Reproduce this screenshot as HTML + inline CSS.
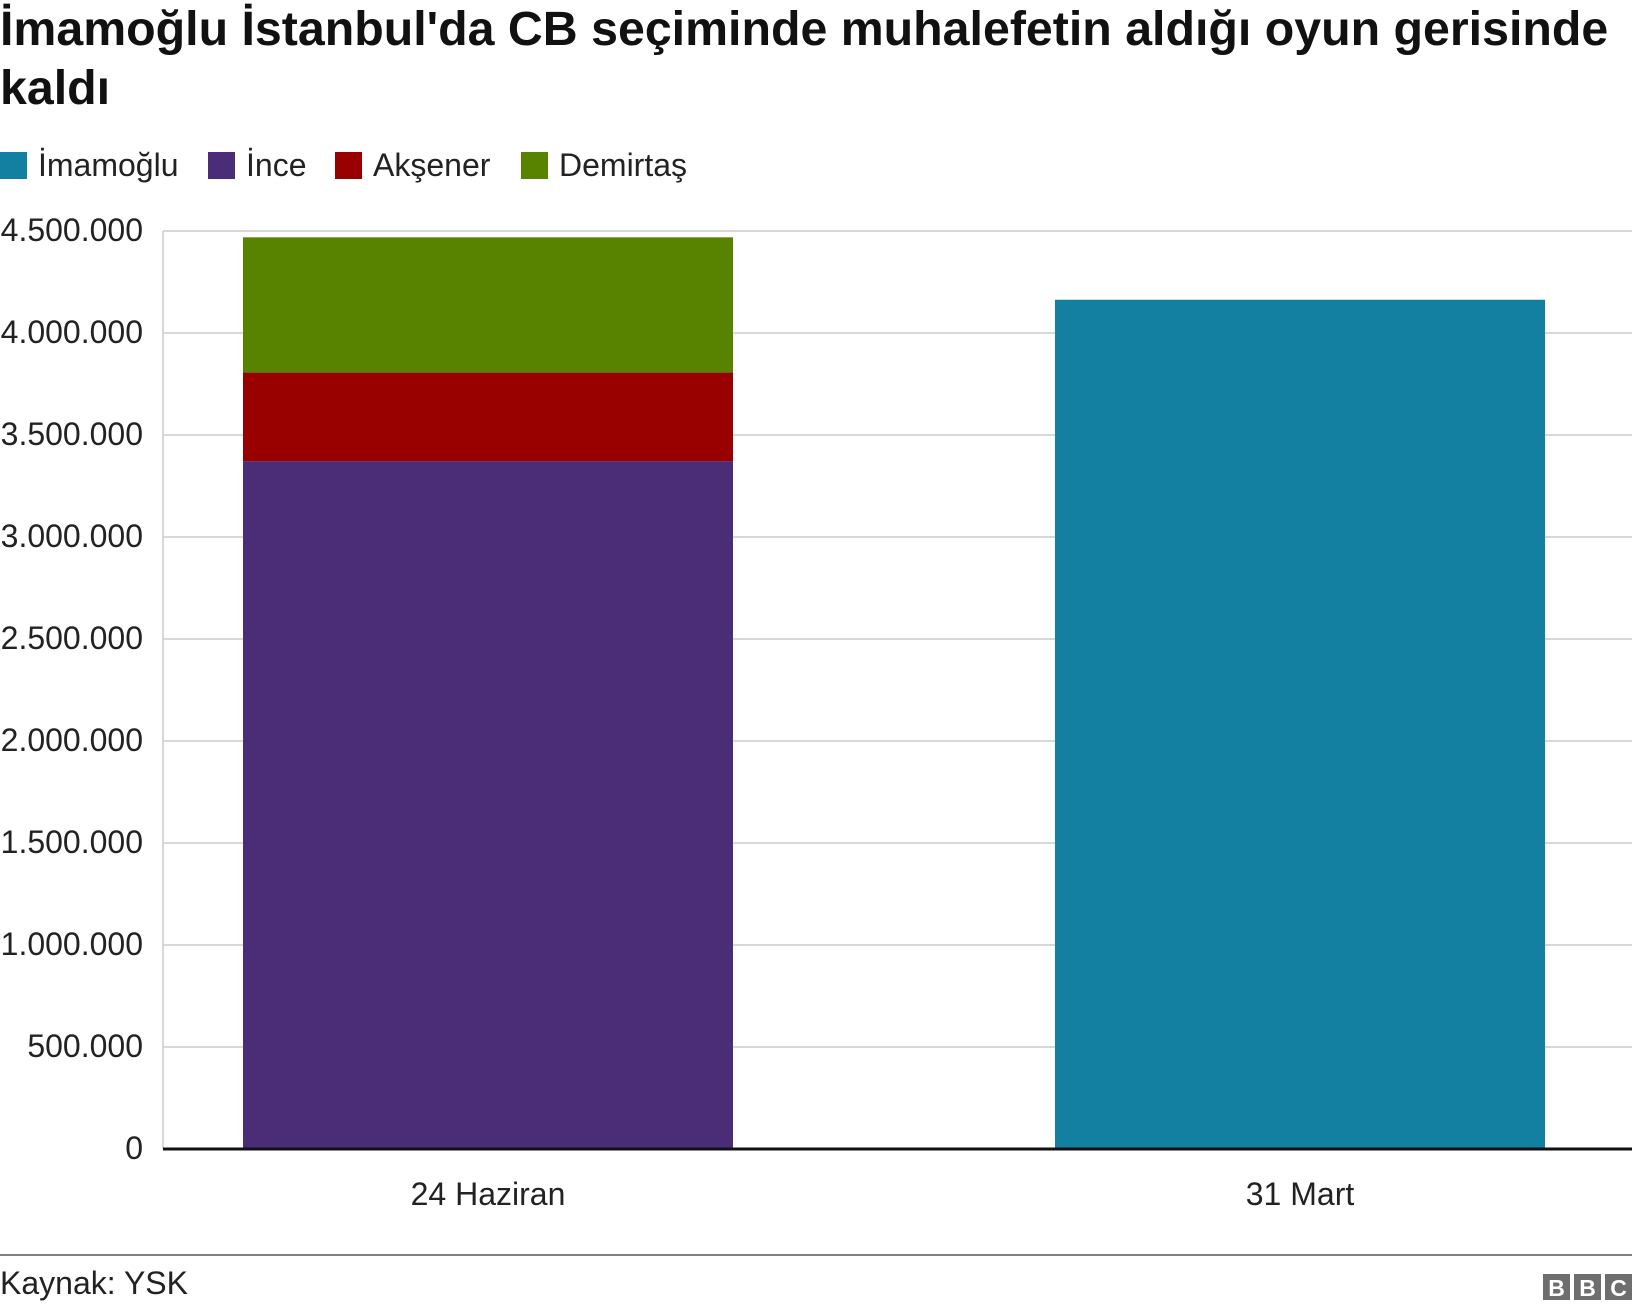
<!DOCTYPE html>
<html><head><meta charset="utf-8">
<style>
body{margin:0;background:#fff;font-family:"Liberation Sans",Arial,sans-serif;}
#wrap{position:relative;width:1632px;height:1310px;overflow:hidden;}
h1{position:absolute;left:0;top:0;margin:0;font-size:48.3px;line-height:59px;font-weight:bold;color:#111;width:1632px;}
.leg{position:absolute;top:147px;font-size:32px;color:#222;display:flex;align-items:center;}
.leg span.sw{display:inline-block;width:27px;height:27px;margin-right:11px;}
</style></head><body>
<div id="wrap">
<h1>İmamoğlu İstanbul'da CB seçiminde muhalefetin aldığı oyun gerisinde kaldı</h1>
<div class="leg" style="left:0"><span class="sw" style="background:#1380A1"></span>İmamoğlu</div>
<div class="leg" style="left:208px"><span class="sw" style="background:#4B2D77"></span>İnce</div>
<div class="leg" style="left:335px"><span class="sw" style="background:#990000"></span>Akşener</div>
<div class="leg" style="left:521px"><span class="sw" style="background:#588300"></span>Demirtaş</div>
<svg id="svg" width="1632" height="1310" style="position:absolute;left:0;top:0"></svg>
</div>
<script>
const categories=["24 Haziran","31 Mart"];
const seriesNames=["İmamoğlu","İnce","Akşener","Demirtaş"];
const imamoglu=[0,4163000];
const ince=[3372000,0];
const aksener=[434000,0];
const demirtas=[663000,0];
const ticks=[0,500000,1000000,1500000,2000000,2500000,3000000,3500000,4000000,4500000];
const tickLabels=["0","500.000","1.000.000","1.500.000","2.000.000","2.500.000","3.000.000","3.500.000","4.000.000","4.500.000"];
const colors=["#1380A1","#4B2D77","#990000","#588300"];
const svg=document.getElementById('svg');
const NS="http://www.w3.org/2000/svg";
const x0=163,x1=1632,y0=1149,yTop=231,maxV=4500000;
const y=v=>y0-(v/maxV)*(y0-yTop);
const firstCenter=488,step=812;
const barW=490;
const bx=i=>firstCenter+step*i-barW/2;
function mk(t,a){const e=document.createElementNS(NS,t);for(const k in a)e.setAttribute(k,a[k]);svg.appendChild(e);return e;}
ticks.forEach((t,i)=>{
  const l=mk('line',{x1:x0,x2:x1,y1:y(t),y2:y(t),stroke:'#cccccc','stroke-width':1.5});
  
  
  const tx=mk('text',{x:143,y:y(t)+10,'text-anchor':'end','font-size':32,fill:'#222','font-family':'Liberation Sans, sans-serif'});
  tx.textContent=tickLabels[i];
  
  
});
const vl=mk('line',{x1:x0,x2:x0,y1:yTop,y2:y0,stroke:'#cccccc','stroke-width':1.5});


const series=[imamoglu,ince,aksener,demirtas];
categories.forEach((c,i)=>{
  let acc=0;
  series.forEach((s,j)=>{
    const v=s[i]; if(!v) return;
    const r=mk('rect',{x:bx(i),width:barW,y:y(acc+v),height:y(acc)-y(acc+v),fill:colors[j]});
    
    
    acc+=v;
  });
  const t=mk('text',{x:bx(i)+barW/2,y:1205,'text-anchor':'middle','font-size':32,fill:'#222','font-family':'Liberation Sans, sans-serif'});
  t.textContent=c;
  
  
});
const ax=mk('line',{x1:x0,x2:x1,y1:y0,y2:y0,stroke:'#111','stroke-width':3});


const fl=mk('line',{x1:0,x2:1632,y1:1255,y2:1255,stroke:'#808080','stroke-width':2});


const src=mk('text',{x:0,y:1294,'font-size':32,fill:'#222','font-family':'Liberation Sans, sans-serif'});
src.textContent="Kaynak: YSK";


["B","B","C"].forEach((ch,i)=>{
  const bxl=1543+i*31;
  const r=mk('rect',{x:bxl,y:1274,width:27,height:26,fill:'#6e6e6e'});
  
  
  const t=mk('text',{x:bxl+13.5,y:1296,'text-anchor':'middle','font-size':23,'font-weight':'bold',fill:'#fff','font-family':'Liberation Sans, sans-serif'});
  t.textContent=ch;
  
  
});
</script>
</body></html>
